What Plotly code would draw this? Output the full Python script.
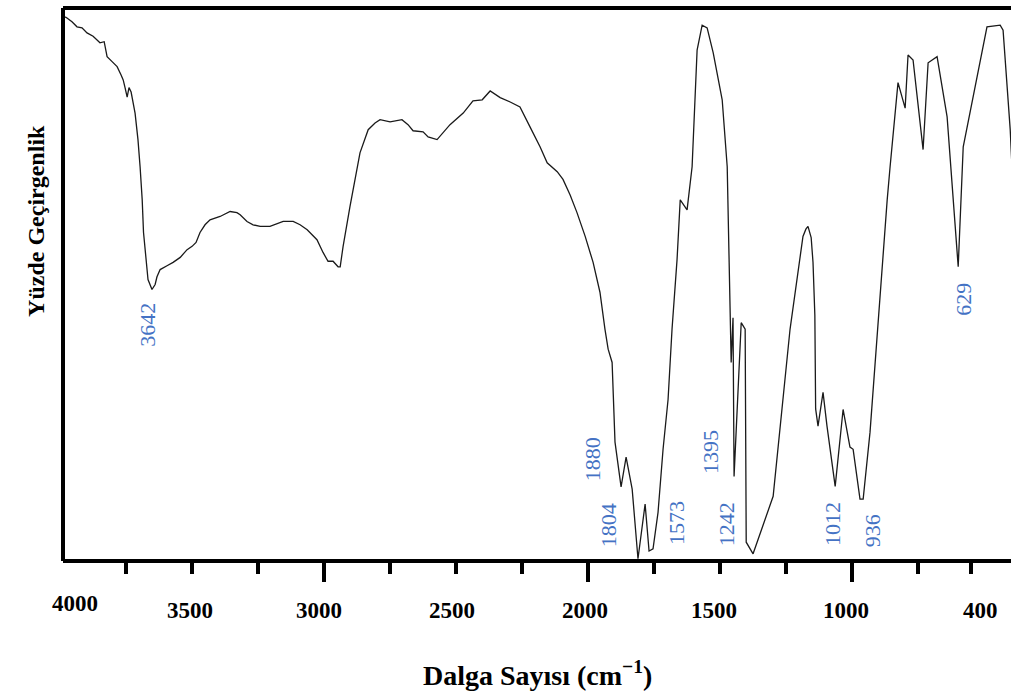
import plotly.graph_objects as go

# ---- data (wavenumber cm^-1, % transmittance) ----
wavenumber = [3981, 3974, 3955, 3936, 3917, 3898, 3875, 3849, 3833, 3822, 3803, 3784, 3769, 3761,
              3754, 3746, 3739, 3731, 3716, 3705, 3697, 3689, 3684, 3674, 3667, 3652, 3640, 3633,
              3621, 3595, 3572, 3545, 3519, 3500, 3485, 3470, 3451, 3432, 3394, 3356, 3330, 3318,
              3292, 3269, 3242, 3205, 3155, 3117, 3091, 3064, 3027, 3004, 2985, 2966, 2947, 2939,
              2928, 2902, 2883, 2864, 2833, 2807, 2788, 2750, 2705, 2682, 2663, 2625, 2606, 2572,
              2523, 2473, 2436, 2401, 2371, 2333, 2295, 2258, 2220, 2182, 2155, 2117, 2095, 2068,
              2042, 2011, 1981, 1955, 1936, 1924, 1909, 1898, 1875, 1856, 1833, 1811, 1784, 1769,
              1754, 1735, 1716, 1697, 1682, 1663, 1651, 1625, 1606, 1587, 1568, 1549, 1526, 1507,
              1492, 1473, 1462, 1458, 1451, 1447, 1420, 1405, 1401, 1375, 1299, 1235, 1186, 1175,
              1167, 1155, 1148, 1141, 1138, 1129, 1110, 1095, 1064, 1034, 1008, 996, 970, 958,
              932, 905, 886, 867, 856, 826, 799, 788, 769, 731, 712, 678, 640, 598,
              579, 553, 489, 439, 428, 401, 394]

transmittance = [98.4, 98.2, 97.5, 96.6, 96.4, 95.5, 94.9, 93.7, 93.9, 91.2, 90.3, 89.4, 87.9, 87.0,
                 85.6, 83.9, 85.6, 84.8, 81.0, 76.2, 71.3, 65.3, 59.4, 53.6, 50.9, 49.1, 50.0, 51.4,
                 52.7, 53.4, 54.0, 54.9, 56.3, 56.9, 57.6, 59.4, 60.8, 61.7, 62.3, 63.2, 63.0, 62.6,
                 61.4, 60.8, 60.5, 60.5, 61.4, 61.4, 60.8, 59.9, 58.1, 55.8, 54.2, 54.2, 53.2, 53.2,
                 56.9, 64.1, 69.0, 73.8, 78.0, 79.2, 79.8, 79.4, 79.8, 78.9, 77.8, 77.6, 76.7, 76.2,
                 78.9, 81.0, 83.2, 83.4, 85.0, 83.8, 83.0, 82.1, 78.5, 74.9, 72.0, 70.4, 69.0, 66.2,
                 63.0, 58.7, 54.0, 48.6, 41.9, 38.3, 35.9, 21.5, 13.4, 18.8, 13.0, 0.4, 10.3, 1.8,
                 2.2, 8.8, 20.2, 29.2, 41.9, 54.5, 65.3, 63.5, 71.3, 92.4, 96.9, 96.4, 91.9, 87.0,
                 83.4, 71.3, 49.1, 35.9, 44.0, 15.3, 43.1, 41.9, 3.4, 1.3, 11.7, 41.9, 58.7, 60.0,
                 60.5, 58.5, 54.0, 44.5, 27.5, 24.4, 30.5, 24.4, 13.5, 27.4, 20.6, 20.2, 11.2, 11.2,
                 23.3, 41.3, 52.2, 65.3, 71.3, 86.5, 81.9, 91.5, 90.6, 74.4, 90.1, 91.2, 80.3, 53.2,
                 74.9, 81.0, 96.6, 96.9, 96.0, 78.0, 71.0]

major_ticks = [3000, 2000, 1000]
minor_ticks = [3750, 3500, 3250, 2750, 2500, 2250, 1750, 1500, 1250, 750, 550]

tick_label_text = ["4000", "3500", "3000", "2500", "2000", "1500", "1000", "400"]
tick_label_at = [3943, 3508, 3019, 2515, 2011, 1523, 1023, 515]

peak_labels = ["3642", "1880", "1804", "1573", "1395", "1242", "1012", "936", "629"]
peak_label_x = [3669, 1985, 1924, 1663, 1538, 1473, 1072, 924, 579]
peak_label_y = [42.8, 18.4, 6.5, 6.9, 19.7, 6.7, 6.7, 5.4, 47.3]

x_title = "Dalga Sayısı (cm<sup>−1</sup>)"
y_title = "Yüzde Geçirgenlik"

SERIF = "Liberation Serif, Times New Roman, serif"
BLUE = "#4472C4"

fig = go.Figure()
fig.add_trace(go.Scatter(
    x=wavenumber, y=transmittance, mode="lines",
    line=dict(color="#1a1a1a", width=1.3),
    showlegend=False, hoverinfo="skip",
))

annotations = []
for txt, pos in zip(tick_label_text, tick_label_at):
    annotations.append(dict(
        x=pos, xref="x", y=0, yref="paper", text=f"<b>{txt}</b>", showarrow=False,
        xanchor="center", yanchor="middle", yshift=-42 if txt == "4000" else -49,
        font=dict(family=SERIF, size=23, color="black"),
    ))
for txt, px, py in zip(peak_labels, peak_label_x, peak_label_y):
    annotations.append(dict(
        x=px, y=py, xref="x", yref="y", text=txt, showarrow=False, textangle=-90,
        xanchor="center", yanchor="middle",
        font=dict(family=SERIF, size=22, color=BLUE),
    ))
annotations.append(dict(
    x=0.5, xref="paper", y=0, yref="paper", text=f"<b>{x_title}</b>", showarrow=False,
    xanchor="center", yanchor="middle", yshift=-112,
    font=dict(family=SERIF, size=28, color="black"),
))
annotations.append(dict(
    x=0, xref="paper", y=0.615, yref="paper", text=f"<b>{y_title}</b>", showarrow=False,
    textangle=-90, xanchor="center", yanchor="middle", xshift=-27,
    font=dict(family=SERIF, size=24, color="black"),
))

frame = dict(type="line", xref="paper", yref="paper", line=dict(color="black", width=4))
shapes = [
    dict(frame, x0=0, x1=0, y0=0, y1=1),
    dict(frame, x0=0, x1=1, y0=1, y1=1),
    dict(frame, x0=0, x1=1, y0=0, y1=0),
]

fig.update_layout(
    width=1011, height=693,
    margin=dict(l=63, r=0, t=8, b=132),
    paper_bgcolor="white", plot_bgcolor="white",
    xaxis=dict(
        range=[3989, 398], showgrid=False, zeroline=False, showline=False,
        tickmode="array", tickvals=major_ticks, ticks="outside", ticklen=20,
        tickwidth=4, tickcolor="black", showticklabels=False,
        minor=dict(tickmode="array", tickvals=minor_ticks, ticks="outside",
                   ticklen=12, tickwidth=4, tickcolor="black", showgrid=False),
    ),
    yaxis=dict(range=[0, 100], showgrid=False, zeroline=False, showline=False,
               ticks="", showticklabels=False),
    annotations=annotations,
    shapes=shapes,
)

fig.write_html("out.html")
